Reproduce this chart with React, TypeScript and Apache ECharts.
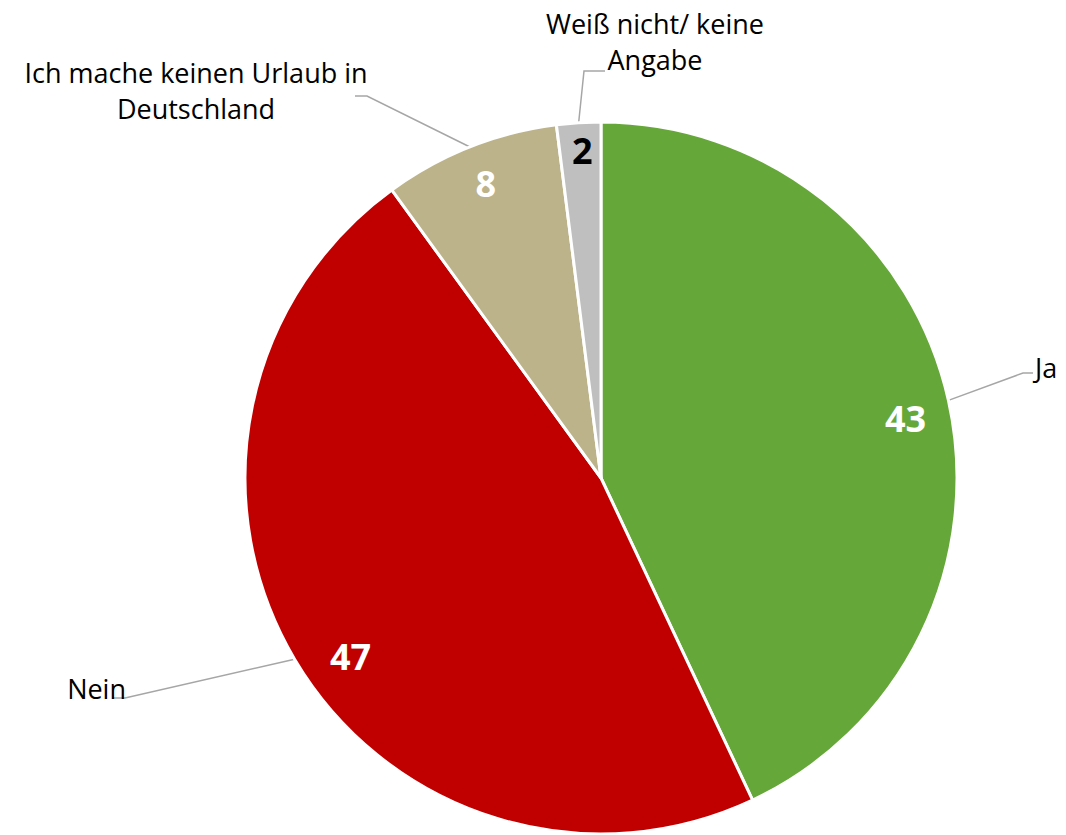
import React, { useEffect, useRef } from "react";
import * as echarts from "echarts";

const categories = [
  "Ja",
  "Nein",
  "Ich mache keinen Urlaub in\nDeutschland",
  "Weiß nicht/ keine\nAngabe",
];
const values = [43, 47, 8, 2];
const colors = ["#66A73A", "#C00000", "#BCB38A", "#BFBFBF"];
const valueLabelColors = ["#FFFFFF", "#FFFFFF", "#FFFFFF", "#000000"];

// label placement (layout only)
const outerLabelLayout = [
  { x: 1035, y: 367, align: "left", p1: [1023, 373], p2: [1033, 373] },
  { x: 126, y: 688, align: "right", p1: [125, 698], p2: [112, 698] },
  { x: 196, y: 90, align: "center", p1: [367, 96], p2: [355, 96] },
  { x: 655, y: 41, align: "center", p1: [584, 71], p2: [605, 71] },
];
const innerLabelNudge = [
  { dx: -1, dy: 9 },
  { dx: 19, dy: 19 },
  { dx: 0, dy: -3 },
  { dx: 1, dy: -15 },
];

const FONT = "'Open Sans', 'Liberation Sans', sans-serif";

export default function App() {
  const ref = useRef<HTMLDivElement>(null);
  useEffect(() => {
    document.body.style.margin = "0";
    const chart = echarts.init(ref.current!, null, { renderer: "svg" });
    const data = categories.map((name, i) => ({
      name,
      value: values[i],
      itemStyle: { color: colors[i] },
    }));
    chart.setOption({
      animation: false,
      backgroundColor: "#FFFFFF",
      series: [
        {
          type: "pie",
          center: [601, 478],
          radius: [0, 356],
          startAngle: 90,
          clockwise: true,
          avoidLabelOverlap: false,
          itemStyle: { borderColor: "#FFFFFF", borderWidth: 3 },
          data,
          label: {
            show: true,
            position: "outside",
            formatter: "{b}",
            color: "#000000",
            fontFamily: FONT,
            fontSize: 27,
            lineHeight: 36,
          },
          labelLine: {
            show: true,
            smooth: false,
            length: 20,
            length2: 10,
            lineStyle: { color: "#A6A6A6", width: 1.5 },
          },
          labelLayout: (params: any) => {
            const l = outerLabelLayout[params.dataIndex];
            const pts = params.labelLinePoints
              ? params.labelLinePoints.map((p: number[]) => [p[0], p[1]])
              : null;
            const out: any = {
              x: l.x,
              y: l.y,
              align: l.align,
              verticalAlign: "middle",
            };
            if (pts) {
              out.labelLinePoints = [pts[0], l.p1, l.p2];
            }
            return out;
          },
          emphasis: { disabled: true },
        },
        {
          type: "pie",
          center: [601, 478],
          radius: [264, 356],
          startAngle: 90,
          clockwise: true,
          silent: true,
          avoidLabelOverlap: false,
          itemStyle: { color: "rgba(0,0,0,0)", borderWidth: 0 },
          data: categories.map((name, i) => ({
            name,
            value: values[i],
            label: { color: valueLabelColors[i] },
          })),
          label: {
            show: true,
            position: "inside",
            formatter: "{c}",
            fontFamily: FONT,
            fontWeight: "bold",
            fontSize: 36,
          },
          labelLine: { show: false },
          labelLayout: (params: any) => {
            const n = innerLabelNudge[params.dataIndex];
            return { dx: n.dx, dy: n.dy };
          },
          emphasis: { disabled: true },
        },
      ],
    });
    return () => chart.dispose();
  }, []);
  return (
    <div
      ref={ref}
      style={{ position: "absolute", left: 0, top: 0, width: 1066, height: 835 }}
    />
  );
}
